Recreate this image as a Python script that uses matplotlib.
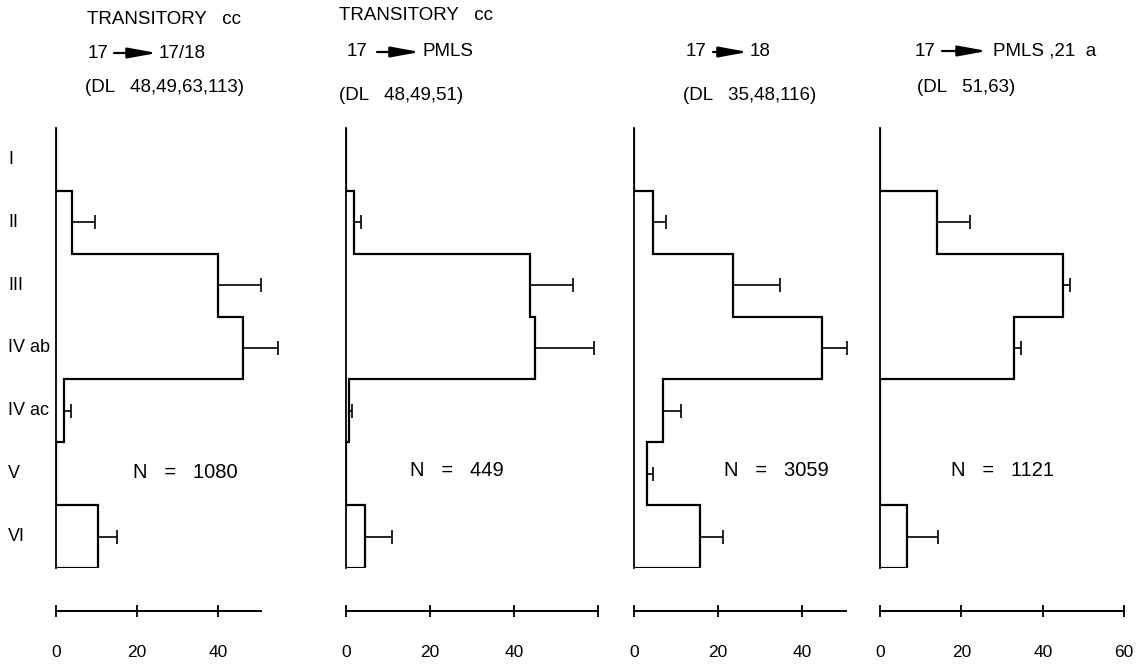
import matplotlib
matplotlib.use("Agg")
import matplotlib.pyplot as plt
from matplotlib.patches import FancyArrowPatch
import numpy as np

plt.rcParams['font.family'] = ['Liberation Sans', 'DejaVu Sans']

# cortical layers, top to bottom
layers = ['I', 'II', 'III', 'IV ab', 'IV ac', 'V', 'VI']

# percentage of labelled cells per layer and the (one sided) error
vals_1 = [0, 3.9, 40.1, 46.2, 2.0, 0, 10.4]
err_1 = [0, 5.7, 10.4, 8.6, 1.6, 0, 4.6]
vals_2 = [0, 1.9, 43.8, 45.0, 0.8, 0, 4.5]
err_2 = [0, 1.6, 10.2, 14.1, 0.6, 0, 6.5]
vals_3 = [0, 4.5, 23.5, 44.8, 6.9, 3.1, 15.8]
err_3 = [0, 3.1, 11.3, 5.8, 4.3, 1.5, 5.3]
vals_4 = [0, 13.9, 45.0, 33.0, 0, 0, 6.6]
err_4 = [0, 8.1, 1.7, 1.6, 0, 0, 7.6]

n_cells = [1080, 449, 3059, 1121]
head_line = ['TRANSITORY   cc', 'TRANSITORY   cc', '', '']
arrow_src = ['17', '17', '17', '17']
arrow_dst = ['17/18', 'PMLS', '18', 'PMLS ,21  a']
dl_line = ['(DL   48,49,63,113)', '(DL   48,49,51)', '(DL   35,48,116)', '(DL   51,63)']
axis_end = [50.5, 60, 50.5, 60]
tick_vals = [[0, 20, 40], [0, 20, 40, 60], [0, 20, 40], [0, 20, 40, 60]]
tick_text = [['0', '20', '40'], ['0', '20', '40', ''], ['0', '20', '40'], ['0', '20', '40', '60']]

all_vals = [vals_1, vals_2, vals_3, vals_4]
all_err = [err_1, err_2, err_3, err_4]

# layout in pixels of the 1143x665 picture
W, H = 1143, 665
ax_left = [56, 346, 634, 880]
ax_ppu = [4.05, 4.2, 4.2, 4.07]
ax_top, ax_bot = 128, 568
head_xy = [(87, 20), (339, 15), None, None]
src_x = [88, 347, 686, 915]
row2_y = [53, 52, 52, 51]
arr_x = [(114, 157), (377, 420), (713, 748), (942, 987)]
dst_x = [159, 422, 750, 993]
dl_xy = [(85, 88), (339, 96), (683, 96), (917, 87)]
n_xy = [(133, 472), (410, 470), (724, 470), (951, 470)]


def fx(x):
    return x / W


def fy(y):
    return 1 - y / H


fig = plt.figure(figsize=(W / 100, H / 100), dpi=100)

edges = np.arange(len(layers) + 1)
centers = edges[:-1] + 0.5

for i in range(4):
    w = 60 * ax_ppu[i]
    ax = fig.add_axes([fx(ax_left[i]), fy(ax_bot), w / W, (ax_bot - ax_top) / H])
    vals = np.array(all_vals[i], dtype=float)
    err = np.array(all_err[i], dtype=float)

    ax.stairs(vals, edges, orientation='horizontal', baseline=0,
              color='black', lw=1.6)
    m = err > 0
    ax.errorbar(vals[m], centers[m], xerr=[np.zeros(m.sum()), err[m]],
                fmt='none', ecolor='black', elinewidth=1.2, capsize=4.7,
                capthick=1.2)

    ax.set_xlim(0, 60)
    ax.set_ylim(len(layers), 0)
    ax.set_yticks([])
    for s in ['top', 'right']:
        ax.spines[s].set_visible(False)
    ax.spines['left'].set_linewidth(1.3)
    ax.spines['bottom'].set_position(('outward', 43 * 0.72))
    ax.spines['bottom'].set_bounds(0, axis_end[i])
    ax.spines['bottom'].set_linewidth(1.4)
    ax.set_xticks(tick_vals[i], tick_text[i])
    ax.tick_params(axis='x', direction='inout', length=9, width=1.3,
                   pad=20, labelsize=12.5)

    if i == 0:
        for lab, c in zip(layers, centers):
            ax.text(-48 / w, c, lab, transform=ax.get_yaxis_transform(),
                    ha='left', va='center', fontsize=13)

    # headings above each panel
    if head_xy[i] is not None:
        fig.text(fx(head_xy[i][0]), fy(head_xy[i][1]), head_line[i],
                 ha='left', va='center', fontsize=13.5)
    fig.text(fx(src_x[i]), fy(row2_y[i]), arrow_src[i],
             ha='left', va='center', fontsize=13.5)
    fig.text(fx(dst_x[i]), fy(row2_y[i]), arrow_dst[i],
             ha='left', va='center', fontsize=13.5)
    arr = FancyArrowPatch((fx(arr_x[i][0]), fy(row2_y[i])),
                          (fx(arr_x[i][1]), fy(row2_y[i])),
                          transform=fig.transFigure,
                          arrowstyle='-|>,head_length=1.1,head_width=0.2',
                          mutation_scale=16, color='black', lw=1.6,
                          shrinkA=0, shrinkB=0)
    fig.add_artist(arr)
    fig.text(fx(dl_xy[i][0]), fy(dl_xy[i][1]), dl_line[i],
             ha='left', va='center', fontsize=13.5)

    fig.text(fx(n_xy[i][0]), fy(n_xy[i][1]), 'N   =   %d' % n_cells[i],
             ha='left', va='center', fontsize=14.5)

fig.savefig('out.png', dpi=100)
